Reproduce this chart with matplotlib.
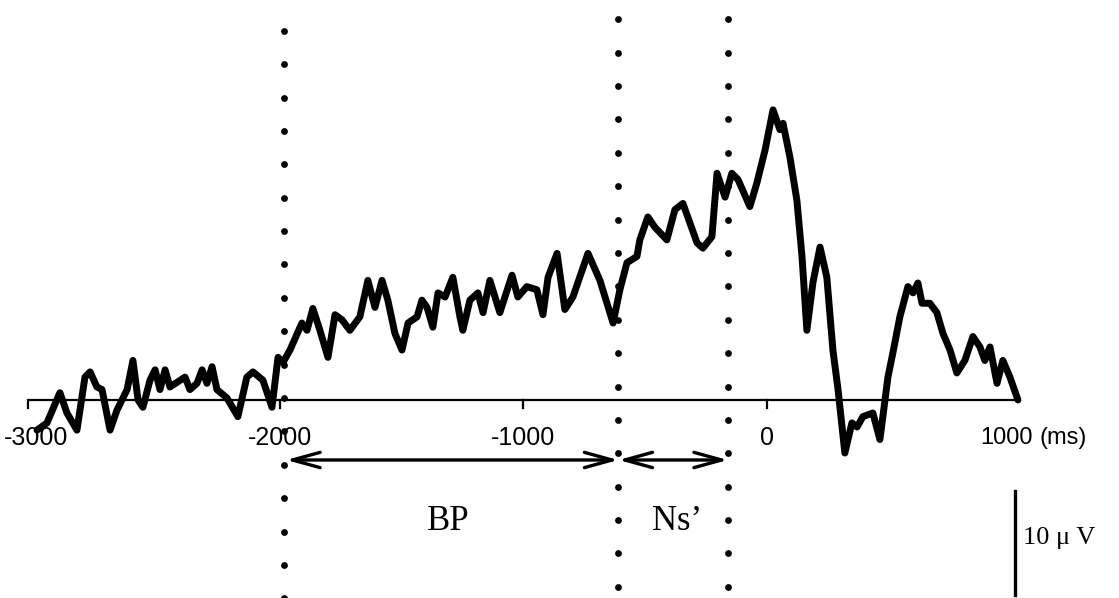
import matplotlib.pyplot as plt
import numpy as np

# waveform: time (ms) and amplitude (uV)
time_ms = [-2998, -2957, -2904, -2875, -2834, -2801, -2780, -2752, -2731, -2698,
           -2670, -2628, -2604, -2583, -2563, -2534, -2513, -2493, -2472, -2452,
           -2423, -2390, -2370, -2341, -2320, -2300, -2279, -2259, -2218, -2173,
           -2136, -2111, -2070, -2033, -2008, -1988, -1959, -1910, -1889, -1865,
           -1836, -1803, -1774, -1745, -1713, -1672, -1639, -1610, -1581, -1557,
           -1528, -1499, -1474, -1437, -1417, -1396, -1372, -1351, -1322, -1290,
           -1261, -1249, -1220, -1187, -1166, -1138, -1097, -1076, -1047, -1023,
           -986, -945, -920, -899, -862, -830, -797, -735, -686, -632,
           -604, -575, -534, -522, -489, -460, -411, -378, -345, -287,
           -263, -226, -205, -172, -144, -119, -70, -41, -8, 25,
           53, 66, 94, 123, 144, 164, 189, 218, 246, 271,
           292, 320, 349, 370, 394, 435, 464, 485, 497, 517,
           546, 579, 600, 620, 637, 669, 698, 723, 752, 780,
           813, 846, 875, 895, 916, 945, 969, 998, 1031]
amp_uv = [-2.9, -2.2, 0.7, -1.25, -2.9, 2.2, 2.7, 1.25, 1.0, -2.9,
          -1.0, 1.0, 3.8, 0.0, -0.7, 1.9, 2.9, 1.0, 2.9, 1.25,
          1.7, 2.2, 1.0, 1.6, 2.9, 1.6, 3.2, 1.0, 0.2, -1.6,
          2.2, 2.7, 1.9, -0.7, 4.1, 3.6, 4.8, 7.4, 6.7, 8.8,
          6.7, 4.1, 8.2, 7.7, 6.7, 8.0, 11.5, 8.9, 11.5, 9.6,
          6.4, 4.8, 7.4, 8.0, 9.6, 8.9, 7.0, 10.3, 9.9, 11.8,
          8.0, 6.7, 9.6, 10.3, 8.4, 11.5, 8.4, 9.9, 12.0, 9.9,
          10.9, 10.6, 8.2, 11.8, 14.1, 8.7, 9.9, 14.1, 11.5, 7.4,
          10.6, 13.2, 13.8, 15.4, 17.6, 16.6, 15.4, 18.3, 18.9, 15.1,
          14.6, 15.7, 21.8, 19.5, 21.8, 21.2, 18.6, 20.9, 24.0, 27.9,
          26.0, 26.6, 23.4, 19.2, 13.8, 6.7, 11.3, 14.7, 11.8, 4.8,
          1.0, -5.1, -2.2, -2.6, -1.6, -1.25, -3.8, 0.0, 2.2, 4.5,
          8.0, 10.9, 10.3, 11.25, 9.3, 9.3, 8.4, 6.4, 4.8, 2.6,
          3.8, 6.1, 5.1, 3.8, 5.1, 1.6, 3.8, 2.2, 0.0]

tick_vals = [-3000, -2000, -1000, 0]
tick_labels = ['-3000', '-2000', '-1000', '0']
end_label = '1000'
unit_label = '(ms)'
marker_ms = [-1985, -610, -160]
bp_span = [-1975, -610]
ns_span = [-610, -160]

fig = plt.figure(figsize=(11.19, 5.98), dpi=100)
ax = fig.add_axes([0, 0, 1, 1])
ax.set_xlim(-3150, 1446)
ax.set_ylim(-19.04, 38.46)
ax.axis('off')

# baseline and ticks
ax.plot([-3035, 1031], [0, 0], color='black', lw=1.6, solid_capstyle='butt')
for t in [-3035, -2000, -1000, 0]:
    ax.plot([t, t], [0, -0.8], color='black', lw=1.6)
sans = ['Liberation Sans', 'DejaVu Sans']
for t, lab in zip(tick_vals, tick_labels):
    ax.text(t, -3.65, lab, ha='center', va='center', fontsize=18,
            family=sans, color='black')
ax.text(1092, -3.65, end_label, ha='right', va='center', fontsize=17,
        family=sans, color='black')
ax.text(1120, -3.65, unit_label, ha='left', va='center', fontsize=17,
        family=sans, color='black')

# dotted markers
dot_gap = 3.21
ys_left = np.arange(35.5, -19.5, -dot_gap)
ys_mid = np.arange(36.6, -19.5, -dot_gap)
ax.scatter([marker_ms[0]] * len(ys_left), ys_left, s=24, color='black', lw=0)
for m in marker_ms[1:]:
    ax.scatter([m] * len(ys_mid), ys_mid, s=24, color='black', lw=0)

# waveform
ax.plot(time_ms, amp_uv, color='black', lw=5, solid_joinstyle='round',
        solid_capstyle='round')

# interval arrows
arrow_y = -5.77
for span in (bp_span, ns_span):
    ax.annotate('', xy=(span[1], arrow_y), xytext=(span[0], arrow_y),
                arrowprops=dict(arrowstyle='<->,head_length=2.0,head_width=0.55',
                                color='black', lw=2.4, shrinkA=0, shrinkB=0))
serif = ['Liberation Serif', 'DejaVu Serif']
ax.text(-1310, -11.7, 'BP', ha='center', va='center', fontsize=25, family=serif)
ax.text(-370, -11.7, 'Ns\u2019', ha='center', va='center', fontsize=25, family=serif)

# scale bar 10 uV
ax.plot([1020, 1020], [-8.75, -18.75], color='black', lw=2.4)
ax.text(1050, -13.3, '10 \u03bc V', ha='left', va='center', fontsize=19, family=serif)

fig.savefig('out.png', dpi=100, facecolor='white')
